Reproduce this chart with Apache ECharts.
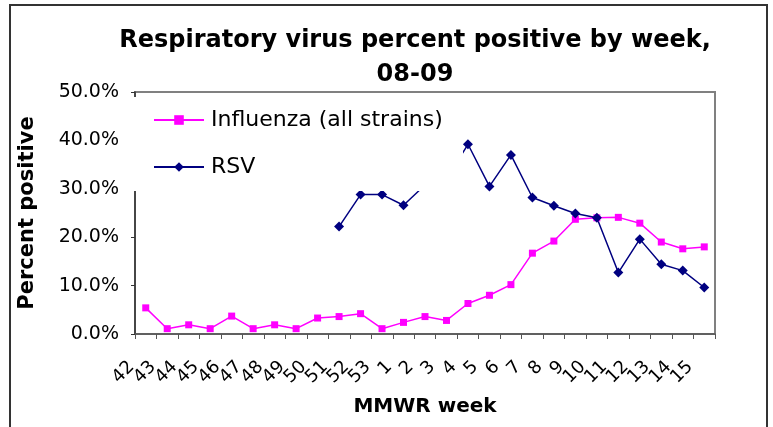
<!DOCTYPE html>
<html><head><meta charset="utf-8">
<script src="https://cdn.jsdelivr.net/npm/echarts@6/dist/echarts.min.js"></script>
<style>html,body{margin:0;padding:0;background:#fff}#c{width:773px;height:427px}</style>
</head><body><div id="c"></div>
<script>
const weeks = ['42','43','44','45','46','47','48','49','50','51','52','53','1','2','3','4','5','6','7','8','9','10','11','12','13','14','15'];
const influenza = [5.4,1.1,1.9,1.1,3.7,1.1,1.9,1.1,3.3,3.6,4.2,1.1,2.4,3.6,2.8,6.3,8.0,10.2,16.7,19.2,23.7,24.0,24.1,22.9,19.0,17.6,18.0];
const rsv = [null,null,null,null,null,null,null,null,null,22.2,28.8,28.8,26.6,30.8,32.0,39.2,30.5,37.0,28.2,26.5,24.9,24.0,12.7,19.6,14.4,13.1,9.6];
const yTicks = [0,10,20,30,40,50];
const FONT = '"DejaVu Sans", sans-serif';

const chart = echarts.init(document.getElementById('c'), null, {renderer:'canvas'});
chart.setOption({
  animation:false,
  backgroundColor:'#fff',
  title:{
    text:'Respiratory virus percent positive by week,\n08-09',
    left:410, top:19, textAlign:'center',
    textStyle:{fontFamily:FONT, fontSize:24, fontWeight:'bold', color:'#000', lineHeight:34}
  },
  graphic:[
    {type:'rect', shape:{x:10,y:5,width:757,height:440}, z:-1,
     style:{fill:'none', stroke:'#333', lineWidth:2}},
    {type:'rect', shape:{x:129,y:97,width:334,height:94}, z:100,
     style:{fill:'#fff'}}
  ],
  grid:{left:135, right:58, top:92, bottom:93, show:true, borderColor:'#808080', borderWidth:2, backgroundColor:'#fff'},
  legend:{
    orient:'vertical', left:153, top:108, z:200,
    padding:0,
    itemWidth:50, itemHeight:12, itemGap:23,
    textStyle:{fontFamily:FONT, fontSize:22, color:'#000', lineHeight:24, padding:[0,0,0,2]},
    data:['Influenza (all strains)','RSV']
  },
  xAxis:{
    type:'category', data:weeks, boundaryGap:true,
    name:'MMWR week', nameLocation:'middle', nameGap:63,
    nameTextStyle:{fontFamily:FONT, fontSize:20, fontWeight:'bold', color:'#000'},
    axisLine:{lineStyle:{color:'#555', width:1.5}},
    axisTick:{show:true, alignWithLabel:false, length:5, lineStyle:{color:'#555'}},
    axisLabel:{interval:0, rotate:45, margin:16, fontFamily:FONT, fontSize:18, color:'#000', padding:[0,20,0,0]}
  },
  yAxis:{
    type:'value', min:yTicks[0], max:yTicks[yTicks.length-1], interval:10,
    name:'Percent positive', nameLocation:'middle', nameGap:97, nameRotate:90,
    nameTextStyle:{fontFamily:FONT, fontSize:21, fontWeight:'bold', color:'#000'},
    axisLine:{show:true, lineStyle:{color:'#333', width:1.5}},
    axisTick:{show:true, length:4, lineStyle:{color:'#333'}},
    splitLine:{show:false},
    axisLabel:{margin:16, fontFamily:FONT, fontSize:19, color:'#000', formatter:v=>v.toFixed(1)+'%'}
  },
  series:[
    {name:'Influenza (all strains)', type:'line', data:influenza, symbol:'rect', symbolSize:7,
     lineStyle:{color:'#FF00FF', width:1.5}, itemStyle:{color:'#FF00FF'}},
    {name:'RSV', type:'line', data:rsv, symbol:'diamond', symbolSize:10,
     lineStyle:{color:'#000080', width:1.5}, itemStyle:{color:'#000080'}}
  ]
});
</script></body></html>
